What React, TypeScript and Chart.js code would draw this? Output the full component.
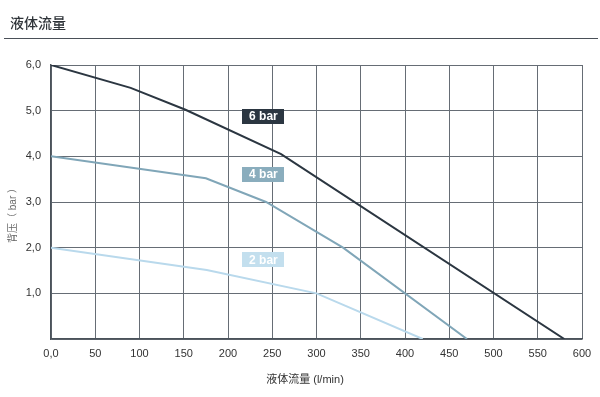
import React, { useEffect, useRef } from "react";
import { Chart, registerables } from "chart.js";

Chart.register(...registerables);

const xTicksMax = 600;
const yTicksMax = 6;

const flow6 = [0, 90, 152, 260, 580];
const press6 = [6.0, 5.5, 5.02, 4.05, 0];
const flow4 = [0, 175, 243, 330, 470];
const press4 = [4.0, 3.52, 3.0, 2.0, 0];
const flow2 = [0, 176, 300, 420];
const press2 = [2.0, 1.51, 1.0, 0];

const seriesNames = ["6 bar", "4 bar", "2 bar"];
const lineColors = ["#2b3641", "#80a6b8", "#b9d9ec"];
const boxColors = ["#2b3641", "#8aadbd", "#c3dfee"];
const labelX = [240, 240, 240];
const labelY = [4.88, 3.6, 1.73];

const xTitle = "液体流量 (l/min)";
const yTitle = "背压（ bar ）";

const FONT = "'Liberation Sans', 'Noto Sans CJK SC', Arial, sans-serif";

const toPts = (xs: number[], ys: number[]) => xs.map((x, i) => ({ x, y: ys[i] }));

const labelPlugin = {
  id: "barLabels",
  afterDatasetsDraw(chart: any) {
    const { ctx, scales } = chart;
    ctx.save();
    seriesNames.forEach((name, i) => {
      const px = scales.x.getPixelForValue(labelX[i]);
      const py = scales.y.getPixelForValue(labelY[i]);
      const w = 42;
      const h = 15;
      ctx.fillStyle = boxColors[i];
      ctx.fillRect(Math.round(px - w / 2), Math.round(py - h / 2), w, h);
      ctx.fillStyle = "#ffffff";
      ctx.font = `bold 12px ${FONT}`;
      ctx.textAlign = "center";
      ctx.textBaseline = "middle";
      ctx.fillText(name, px, py + 0.5);
    });
    // axis titles
    ctx.fillStyle = "#333333";
    ctx.font = `11px ${FONT}`;
    ctx.textAlign = "center";
    ctx.textBaseline = "middle";
    ctx.fillText(xTitle, 305, 380);
    ctx.save();
    ctx.translate(13, 213);
    ctx.rotate(-Math.PI / 2);
    ctx.fillStyle = "#666666";
    ctx.font = `10px ${FONT}`;
    ctx.fillText(yTitle, 0, 0);
    ctx.restore();
    ctx.restore();
  },
};

export default function App() {
  const ref = useRef<HTMLCanvasElement | null>(null);

  useEffect(() => {
    document.body.style.margin = "0";
    if (!ref.current) return;
    const chart = new Chart(ref.current, {
      type: "line",
      data: {
        datasets: [
          { label: seriesNames[0], data: toPts(flow6, press6), borderColor: lineColors[0], borderWidth: 2, pointRadius: 0, tension: 0, fill: false },
          { label: seriesNames[1], data: toPts(flow4, press4), borderColor: lineColors[1], borderWidth: 2, pointRadius: 0, tension: 0, fill: false },
          { label: seriesNames[2], data: toPts(flow2, press2), borderColor: lineColors[2], borderWidth: 2, pointRadius: 0, tension: 0, fill: false },
        ],
      },
      options: {
        animation: false,
        responsive: false,
        maintainAspectRatio: false,
        layout: { padding: { top: 65, left: 0, right: 18, bottom: 10 } },
        plugins: { legend: { display: false }, tooltip: { enabled: false } },
        scales: {
          x: {
            type: "linear",
            min: 0,
            max: xTicksMax,
            afterFit: (s: any) => { s.height = 48; },
            ticks: {
              stepSize: 50,
              padding: 8,
              color: "#333333",
              font: { family: FONT, size: 11 },
              maxRotation: 0,
              callback: (v: any) => (v === 0 ? "0,0" : String(v)),
            },
            grid: { color: "#666d75", lineWidth: 1, drawTicks: false },
            border: { color: "#4a525a", width: 1.5 },
            title: { display: false },
          },
          y: {
            type: "linear",
            min: 0,
            max: yTicksMax,
            afterFit: (s: any) => { s.width = 51; },
            ticks: {
              stepSize: 1,
              padding: 10,
              color: "#333333",
              font: { family: FONT, size: 11 },
              callback: (v: any) => (v === 0 ? "" : Number(v).toFixed(1).replace(".", ",")),
            },
            grid: { color: "#666d75", lineWidth: 1, drawTicks: false },
            border: { color: "#4a525a", width: 1.5 },
            title: { display: false },
          },
        },
      },
      plugins: [labelPlugin],
    } as any);
    return () => chart.destroy();
  }, []);

  return (
    <div style={{ position: "relative", width: 600, height: 397, background: "#fff" }}>
      <canvas ref={ref} width={600} height={397} style={{ position: "absolute", left: 0, top: 0, width: 600, height: 397 }} />
      <div
        style={{
          position: "absolute",
          left: 10,
          top: 13,
          fontFamily: "'Noto Sans CJK SC', sans-serif",
          fontSize: 14,
          lineHeight: "18px",
          color: "#2e3338",
          fontWeight: 500,
        }}
      >
        液体流量
      </div>
      <div style={{ position: "absolute", left: 4, top: 38, width: 594, height: 1, background: "#4a5058" }} />
    </div>
  );
}
